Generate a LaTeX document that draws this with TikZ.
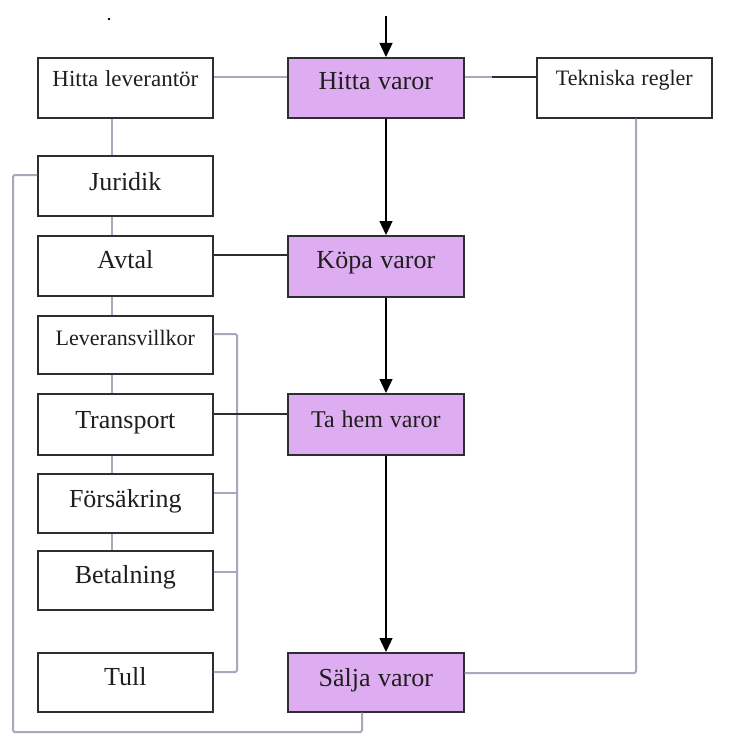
\documentclass[tikz,border=0pt]{standalone}
\usepackage{fontspec}
\setmainfont{Liberation Serif}
\usetikzlibrary{arrows.meta,calc}

\definecolor{boxline}{RGB}{45,45,50}
\definecolor{linkgray}{RGB}{168,168,188}
\definecolor{mainfill}{RGB}{222,172,240}
\definecolor{txt}{RGB}{30,30,30}

% font size with a slightly wider word space
\newcommand{\fs}[1]{\fontsize{#1}{#1}\selectfont\spaceskip=0.29em\relax}

\tikzset{
  box/.style={draw=boxline, line width=1.7pt, inner sep=0pt, anchor=north west,
              text width=#1, align=center, text=txt},
  box/.default=175pt,
  mainbox/.style={box=176pt, fill=mainfill},
  glink/.style={draw=linkgray, line width=2pt, rounded corners=1.5pt},
  dlink/.style={draw=boxline, line width=1.3pt},
  flow/.style={draw=black, line width=1.3pt, -{Triangle[length=14pt,width=13pt]}},
}

\begin{document}
\begin{tikzpicture}[x=1pt,y=-1pt]
\useasboundingbox (0,0) rectangle (731,752);

% reference rows and columns for the connectors
\coordinate (top) at (386,16);
\coordinate (r1) at (0,77);
\coordinate (colL) at (112,0);
\coordinate (colB) at (237,0);
\coordinate (colT) at (636,0);
\coordinate (colS) at (362,0);
\coordinate (farL) at (13,0);
\coordinate (rowBot) at (0,732);

% left column
\node[box, text height=29pt, text depth=31pt] (lev) at (37,57) {\fs{23}Hitta leverantör};
\node[box, text height=35pt, text depth=25pt] (jur) at (37,155) {\fs{26}Juridik};
\node[box, text height=33pt, text depth=27pt] (avt) at (37,235) {\fs{26}Avtal};
\node[box, text height=30pt, text depth=28pt] (levv) at (37,315) {\fs{22}Leveransvillkor};
\node[box, text height=35pt, text depth=26pt] (tra) at (37,393) {\fs{26}Transport};
\node[box, text height=34pt, text depth=25pt] (for) at (37,473) {\fs{26}Försäkring};
\node[box, text height=33pt, text depth=26pt] (bet) at (37,550) {\fs{26}Betalning};
\node[box, text height=33pt, text depth=26pt] (tul) at (37,652) {\fs{26}Tull};

% main process column
\node[mainbox, text height=32pt, text depth=28pt] (hv) at (287,57) {\fs{26}Hitta varor};
\node[mainbox, text height=33pt, text depth=28pt] (kop) at (287,235) {\fs{26}Köpa varor};
\node[mainbox, text height=34pt, text depth=27pt] (tah) at (287,393) {\fs{24}Ta hem varor};
\node[mainbox, text height=34pt, text depth=25pt] (sal) at (287,652) {\fs{26}Sälja varor};

% right column
\node[box, text height=28pt, text depth=32pt] (tek) at (536,57) {\fs{22}Tekniska regler};

% stray dot above the left column
\fill[black] (109,19) circle (1.3pt);

% process flow
\draw[flow] (top) -- (top |- hv.north);
\draw[flow] (hv.south -| top) -- (kop.north -| top);
\draw[flow] (kop.south -| top) -- (tah.north -| top);
\draw[flow] (tah.south -| top) -- (sal.north -| top);

% top row links
\draw[glink] (lev.east |- r1) -- (hv.west |- r1);
\draw[glink] (hv.east |- r1) -- (tek.west |- r1);
\draw[dlink] (492,77) -- (tek.west |- r1);

% left column chain
\draw[glink] (lev.south -| colL) -- (jur.north -| colL);
\draw[glink] (jur.south -| colL) -- (avt.north -| colL);
\draw[glink] (avt.south -| colL) -- (levv.north -| colL);
\draw[glink] (levv.south -| colL) -- (tra.north -| colL);
\draw[glink] (tra.south -| colL) -- (for.north -| colL);
\draw[glink] (for.south -| colL) -- (bet.north -| colL);

% bracket joining the delivery terms
\coordinate (bLev) at (0,334);
\coordinate (bFor) at (0,493);
\coordinate (bBet) at (0,572);
\coordinate (bTul) at (0,672);
\draw[glink] (levv.east |- bLev) -| (colB |- bTul) -- (tul.east |- bTul);
\draw[glink] (for.east |- bFor) -- (colB |- bFor);
\draw[glink] (bet.east |- bBet) -- (colB |- bBet);

% dark links to the process column
\draw[dlink] (avt.east |- 0,255) -- (kop.west |- 0,255);
\draw[dlink] (tra.east |- 0,414) -- (tah.west |- 0,414);

% technical rules feed into selling
\coordinate (rSal) at (0,673);
\draw[glink] (tek.south -| colT) |- (sal.east |- rSal);

% legal loop round to selling
\draw[glink] (jur.west |- 0,175) -| (farL |- rowBot) -| (sal.south -| colS);

\end{tikzpicture}
\end{document}
